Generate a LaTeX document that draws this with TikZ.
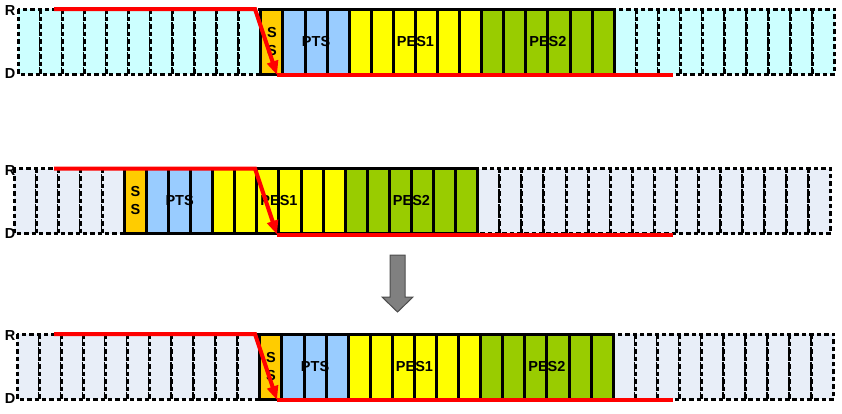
\documentclass[tikz,border=0pt]{standalone}
\usepackage{fontspec}
\setmainfont{Liberation Sans}
\usetikzlibrary{math,arrows.meta}

\definecolor{slotcyan}{HTML}{CCFFFF}
\definecolor{slotgrey}{HTML}{E8EEF8}
\definecolor{ssorange}{HTML}{FFCC00}
\definecolor{ptsblue}{HTML}{99CCFF}
\definecolor{pesyellow}{HTML}{FFFF00}
\definecolor{pesgreen}{HTML}{99CC00}
\definecolor{movegrey}{HTML}{808080}

\tikzset{
  emptyslot/.style={draw=black, line width=3pt, dash pattern=on 4.5pt off 3pt},
  fullslot/.style={draw=black, line width=3pt},
  lbl/.style={font=\bfseries\fontsize{14.5}{18}\selectfont, inner sep=0pt, align=center},
  readline/.style={draw=red, line width=4pt},
}

\begin{document}
\begin{tikzpicture}[x=1pt, y=-1pt]
    \useasboundingbox (0,0) rectangle (842,413);
    % Don't forget ; in \tikzmath.
    \tikzmath{%
      \w = 22.08; % slot width
      \h = 65;    % slot height
      % read pointer: start, knee, tip, end
      \xa = 54; \xk = 255; \xt = 277; \xe = 673;
    }
    % row / left edge / top / first packet slot / empty colour
    \foreach \r/\xo/\yt/\p/\bg in {1/18/9/11/slotcyan, 2/14/168.5/5/slotgrey, 3/17/334/11/slotgrey} {
      % empty slots
      \foreach \i in {0,...,36} {
        \draw[emptyslot, fill=\bg] (\xo+\i*\w, \yt) rectangle ++(\w, \h);
      }
      % packet slots: SS, PTS, PES1, PES2
      \foreach \a/\b/\c in {0/0/ssorange, 1/3/ptsblue, 4/9/pesyellow, 10/15/pesgreen} {
        \foreach \j in {\a,...,\b} {
          \draw[fullslot, fill=\c] (\xo+\p*\w+\j*\w, \yt) rectangle ++(\w, \h);
        }
      }
      \node[lbl] (ss\r)   at (\xo+\p*\w+0.5*\w, \yt+\h/2) {S\\S};
      \node[lbl] (pts\r)  at (\xo+\p*\w+2.5*\w, \yt+\h/2) {PTS};
      \node[lbl] (pesa\r) at (\xo+\p*\w+7*\w, \yt+\h/2)   {PES1};
      \node[lbl] (pesb\r) at (\xo+\p*\w+13*\w, \yt+\h/2)  {PES2};
      % R and D
      \node[lbl] (r\r) at (10, \yt+2)  {R};
      \node[lbl] (d\r) at (10, \yt+\h) {D};
      % read pointer
      \coordinate (ra\r) at (\xa, \yt);
      \coordinate (rk\r) at (\xk, \yt);
      \coordinate (rt\r) at (\xt, \yt+\h+1);
      \coordinate (re\r) at (\xe, \yt+\h+1);
      \draw[readline, -{Triangle[length=14pt, width=11pt]}] (ra\r) -- (rk\r) -- (rt\r);
      \draw[readline] (rt\r) -- (re\r);
    }
    % move down
    \draw[fill=movegrey, draw=black!70, line width=1pt]
      (390,255) -- (405,255) -- (405,297) -- (413,297) -- (397.5,312)
      -- (382,297) -- (390,297) -- cycle;
  \end{tikzpicture}
\end{document}
